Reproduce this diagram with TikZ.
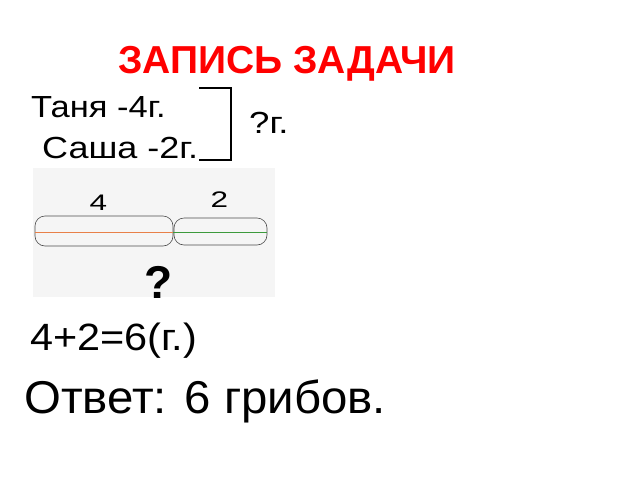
\documentclass[tikz,border=0pt]{standalone}
\usepackage{fontspec}
\setmainfont{Liberation Sans}
\begin{document}
\begin{tikzpicture}[x=1pt,y=-1pt,
  txt/.style={inner sep=0pt,anchor=base west},
  seg/.style={draw=black!70,line width=0.6pt,rounded corners=10pt},
  brk/.style={line width=2.6pt}]
\useasboundingbox (0,0) rectangle (640,480);
% title
\node[inner sep=0pt,anchor=base,text=red] (title) at (287,73) {\fontsize{39}{40}\selectfont\bfseries ЗАПИСЬ ЗАДАЧИ};
% data
\node[txt] (tanya) at (31,117) {\scalebox{1.13}[1]{\fontsize{30.5}{32}\selectfont Таня -4г.}};
\node[txt] (sasha) at (42,158) {\scalebox{1.18}[1]{\fontsize{30.5}{32}\selectfont Саша -2г.}};
\node[txt] (q) at (249,133) {\scalebox{1.2}[1]{\fontsize{30.5}{32}\selectfont ?г.}};
% bracket
\coordinate (b1) at (199,88);
\coordinate (b2) at (231,88);
\coordinate (b3) at (231,160);
\coordinate (b4) at (199,160);
\draw[brk] (b1) -- (b2) -- (b3) -- (b4);
% picture
\node[fill=black!4,minimum width=242pt,minimum height=129pt,inner sep=0pt,anchor=north west] (pic) at (33,168) {};
\draw[seg] (35,216) rectangle (173,246);
\draw[seg] (174,218) rectangle (267,245);
\draw[line width=1pt,color={rgb,255:red,232;green,128;blue,72}] (35,232) -- (173,232);
\draw[line width=1pt,color={rgb,255:red,60;green,154;blue,60}] (173,232) -- (267,232);
\node[inner sep=0pt] (four) at (98.5,203) {\scalebox{1.4}[1]{\fontsize{22.5}{22}\selectfont 4}};
\node[inner sep=0pt] (two) at (219.5,200) {\scalebox{1.4}[1]{\fontsize{22.5}{22}\selectfont 2}};
\node[inner sep=0pt,anchor=base] (qq) at (159,298) {\fontsize{46}{48}\selectfont\bfseries ?};
% solution
\node[txt] (sol) at (30,350) {\scalebox{1.09}[1]{\fontsize{38}{40}\selectfont 4+2=6(г.)}};
\node[txt] (ans) at (24,413) {\scalebox{1.03}[1]{\fontsize{46}{48}\selectfont Ответ: 6 грибов.}};
\end{tikzpicture}
\end{document}
